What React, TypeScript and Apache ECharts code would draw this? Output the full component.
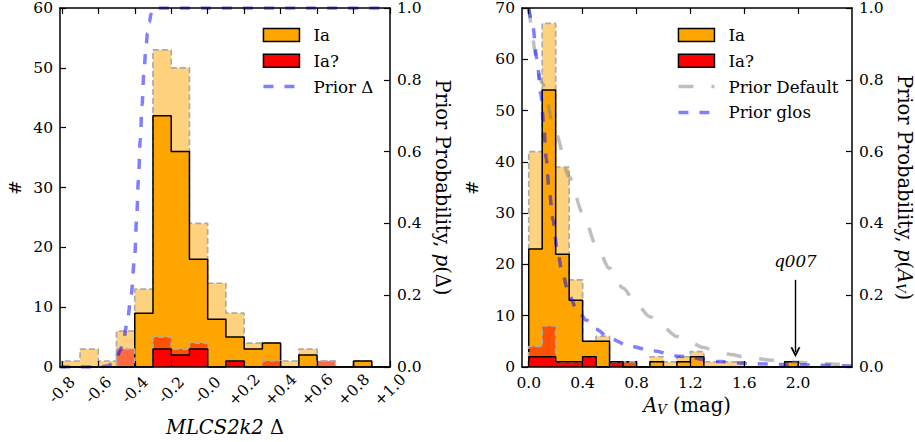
import React, { useEffect, useRef } from "react";
import * as echarts from "echarts";

const FONT = "'DejaVu Serif', serif";

// ---- MLCS2k2 Δ distribution (bins of 0.1) ----
const deltaEdges = [-0.8, -0.7, -0.6, -0.5, -0.4, -0.3, -0.2, -0.1, 0.0, 0.1, 0.2, 0.3, 0.4, 0.5, 0.6, 0.7, 0.8, 0.9, 1.0];
const deltaIaAll = [1, 3, 1, 6, 13, 53, 50, 24, 14, 9, 4, 4, 1, 3, 1, 0, 1, 0];
const deltaIa = [0, 0, 0, 0, 9, 42, 36, 18, 8, 5, 3, 4, 0, 2, 0, 0, 1, 0];
const deltaIaqAll = [0, 0, 0, 3, 0, 5, 3, 4, 0, 1, 0, 1, 0, 0, 1, 0, 0, 0];
const deltaIaq = [0, 0, 0, 0, 0, 3, 2, 3, 0, 1, 0, 0, 0, 0, 0, 0, 0, 0];
const deltaPrior = [
  [-0.81, 0], [-0.6, 0], [-0.55, 0.003], [-0.52, 0.01], [-0.5, 0.025], [-0.48, 0.046],
  [-0.46, 0.08], [-0.44, 0.13], [-0.42, 0.2], [-0.4, 0.31], [-0.39, 0.41], [-0.38, 0.52],
  [-0.37, 0.63], [-0.36, 0.73], [-0.35, 0.82], [-0.34, 0.88], [-0.33, 0.93], [-0.32, 0.96],
  [-0.31, 0.985], [-0.3, 1.0], [1.0, 1.0],
];
const deltaTicks = [-0.8, -0.6, -0.4, -0.2, 0.0, 0.2, 0.4, 0.6, 0.8, 1.0];

// ---- A_V distribution (bins of 0.1) ----
const avEdges = [0.0, 0.1, 0.2, 0.3, 0.4, 0.5, 0.6, 0.7, 0.8, 0.9, 1.0, 1.1, 1.2, 1.3, 1.4, 1.5, 1.6, 1.7, 1.8, 1.9, 2.0, 2.1, 2.2, 2.3, 2.4];
const avIaAll = [42, 67, 39, 17, 5, 6, 1, 1, 0, 2, 1, 2, 3, 1, 1, 1, 0, 0, 0, 1, 0, 0, 0, 0];
const avIa = [23, 54, 22, 13, 5, 5, 1, 1, 0, 1, 0, 1, 2, 0, 0, 0, 0, 0, 0, 1, 0, 0, 0, 0];
const avIaqAll = [4, 8, 1, 1, 2, 0, 1, 1, 0, 0, 0, 0, 0, 0, 0, 0, 0, 0, 0, 0, 0, 0, 0, 0];
const avIaq = [2, 2, 1, 1, 2, 0, 1, 0, 0, 0, 0, 0, 0, 0, 0, 0, 0, 0, 0, 0, 0, 0, 0, 0];
const avPriorDefault = [
  [0.0, 1.0], [0.1, 0.79], [0.2, 0.65], [0.3, 0.53], [0.4, 0.43], [0.5, 0.34], [0.6, 0.275],
  [0.7, 0.22], [0.8, 0.175], [0.9, 0.14], [1.0, 0.11], [1.1, 0.085], [1.2, 0.068], [1.3, 0.054],
  [1.4, 0.043], [1.5, 0.035], [1.6, 0.028], [1.7, 0.023], [1.8, 0.019], [1.9, 0.016], [2.0, 0.013],
  [2.1, 0.011], [2.2, 0.009], [2.3, 0.0075], [2.4, 0.006],
];
const avPriorGlos = [
  [0.0, 1.0], [0.03, 0.95], [0.06, 0.86], [0.09, 0.76], [0.11, 0.68], [0.13, 0.58], [0.15, 0.5],
  [0.18, 0.41], [0.21, 0.33], [0.25, 0.26], [0.3, 0.2], [0.35, 0.165], [0.43, 0.13], [0.5, 0.105],
  [0.6, 0.08], [0.75, 0.058], [0.92, 0.045], [1.12, 0.03], [1.42, 0.015], [1.62, 0.01], [1.9, 0.007],
  [2.16, 0.005], [2.4, 0.003],
];
const avTicks = [0.0, 0.4, 0.8, 1.2, 1.6, 2.0];
const q007Av = 1.98;
const q007ArrowFrom = 17;
const q007ArrowTo = 2.9;

const ORANGE = "#FFA500";
const RED = "#FF0000";

// closed step outline of a histogram: up the first edge, across each bin, down the last edge
function stepOutline(edges: number[], counts: number[]) {
  const pts: number[][] = [[edges[0], 0]];
  counts.forEach((c, i) => pts.push([edges[i], c]));
  pts.push([edges[edges.length - 1], counts[counts.length - 1]]);
  pts.push([edges[edges.length - 1], 0]);
  return pts;
}

function histSeries(name: string, xi: number, yi: number, edges: number[], counts: number[], color: string, light: boolean, extra: any = {}) {
  return {
    name,
    type: "line",
    xAxisIndex: xi,
    yAxisIndex: yi,
    step: "end",
    symbol: "none",
    silent: true,
    data: stepOutline(edges, counts),
    itemStyle: { color },
    lineStyle: light
      ? { color: "#ababab", width: 1.7, type: [6, 3] }
      : { color: "#000", width: 1.5, type: "solid" },
    areaStyle: { color, opacity: light ? 0.5 : 1 },
    ...extra,
  };
}

function priorSeries(name: string, xi: number, yi: number, pts: number[][], color: string, dash: number[]) {
  return {
    name,
    type: "line",
    xAxisIndex: xi,
    yAxisIndex: yi,
    symbol: "none",
    silent: true,
    smooth: 0.3,
    smoothMonotone: "x",
    data: pts,
    itemStyle: { color },
    lineStyle: { color, width: 3.5, type: dash, cap: "butt" },
    z: 5,
  };
}

const axisLine = { show: true, onZero: false, lineStyle: { color: "#000", width: 1.5 } };
const tickStyle = { show: true, inside: true, length: 6, lineStyle: { color: "#000", width: 1.2 } };
const labelBase = { color: "#000", fontFamily: FONT, fontSize: 15.5 };
const nameBase = { color: "#000", fontFamily: FONT, fontSize: 19.5 };
const richName = {
  i: { fontStyle: "italic", fontFamily: FONT, fontSize: 19.5, color: "#000" },
  s: { fontStyle: "italic", fontFamily: FONT, fontSize: 13, color: "#000", verticalAlign: "bottom" },
  n: { fontFamily: FONT, fontSize: 19.5, color: "#000" },
};

function xAxes(grid: number, min: number, max: number, ticks: number[], label: any, name: any) {
  return [
    {
      type: "value", gridIndex: grid, position: "bottom", min, max, z: 10,
      axisLine, splitLine: { show: false },
      axisTick: { ...tickStyle, customValues: ticks },
      axisLabel: { ...labelBase, customValues: ticks, ...label },
      ...name,
    },
    {
      type: "value", gridIndex: grid, position: "top", min, max, z: 10,
      axisLine, splitLine: { show: false },
      axisTick: { ...tickStyle, customValues: ticks },
      axisLabel: { show: false },
    },
  ];
}

function yAxes(grid: number, countMax: number, leftGap: number, probName: string) {
  return [
    {
      type: "value", gridIndex: grid, position: "left", min: 0, max: countMax, interval: 10, z: 10,
      axisLine, splitLine: { show: false }, axisTick: tickStyle,
      axisLabel: { ...labelBase, margin: 7 },
      name: "#", nameLocation: "middle", nameGap: leftGap, nameRotate: 90,
      nameTextStyle: { ...nameBase, fontSize: 17 },
    },
    {
      type: "value", gridIndex: grid, position: "right", min: 0, max: 1, interval: 0.2, z: 10,
      axisLine, splitLine: { show: false }, axisTick: tickStyle,
      axisLabel: { ...labelBase, margin: 7, formatter: (v: number) => v.toFixed(1) },
      name: probName, nameLocation: "middle", nameGap: 42, nameRotate: -90,
      nameTextStyle: { ...nameBase, rich: richName },
    },
  ];
}

const legendBase = {
  orient: "vertical",
  top: 25,
  padding: 0,
  itemWidth: 36,
  itemHeight: 13,
  itemGap: 5.8,
  selectedMode: false,
  textStyle: { color: "#000", fontFamily: FONT, fontSize: 16.7, lineHeight: 20, padding: [0, 0, 0, 9] },
};
const boxItem = (name: string, color: string) => ({
  name, icon: "rect", itemStyle: { color, borderColor: "#000", borderWidth: 1.5 },
});
// line-only key: the marker dot a line series adds to its key is made invisible
const lineItem = (name: string) => ({
  name,
  lineStyle: { width: 3.5 },
  itemStyle: { color: "rgba(0,0,0,0)", borderColor: "rgba(0,0,0,0)", borderWidth: 0, opacity: 0 },
});

const arrowHead = "path://M5,0 L10,10 L8,10 L5,4 L2,10 L0,10 Z";

function buildOption() {
  return {
    animation: false,
    backgroundColor: "#fff",
    textStyle: { fontFamily: FONT },
    grid: [
      { left: 60, top: 8, width: 330, height: 359 },
      { left: 522, top: 8, width: 330, height: 359 },
    ],
    legend: [
      { ...legendBase, left: 261.7, data: [boxItem("Ia", ORANGE), boxItem("Ia?", RED), lineItem("Prior Δ")] },
      { ...legendBase, left: 676.7, data: [boxItem("Ia", ORANGE), boxItem("Ia?", RED), lineItem("Prior Default"), lineItem("Prior glos")] },
    ],
    xAxis: [
      ...xAxes(0, -0.81, 1.0, deltaTicks, {
        rotate: 45, align: "center", verticalAlign: "middle", margin: 23,
        formatter: (v: number) => (v > 0 ? "+" : "-") + Math.abs(v).toFixed(1),
      }, {
        name: "{i|MLCS2k2} {n|Δ}", nameLocation: "middle", nameGap: 50,
        nameTextStyle: { ...nameBase, rich: richName },
      }),
      ...xAxes(1, -0.05, 2.4, avTicks, {
        margin: 8, formatter: (v: number) => v.toFixed(1),
      }, {
        name: "{i|A}{s|V}{n| (mag)}", nameLocation: "middle", nameGap: 27,
        nameTextStyle: { ...nameBase, rich: richName },
      }),
    ],
    yAxis: [
      ...yAxes(0, 60, 37, "Prior Probability, {i|p}(Δ)"),
      ...yAxes(1, 70, 42, "Prior Probability, {i|p}({i|A}{s|V})"),
    ],
    series: [
      histSeries("Ia (all)", 0, 0, deltaEdges, deltaIaAll, ORANGE, true),
      histSeries("Ia", 0, 0, deltaEdges, deltaIa, ORANGE, false),
      histSeries("Ia? (all)", 0, 0, deltaEdges, deltaIaqAll, RED, true),
      histSeries("Ia?", 0, 0, deltaEdges, deltaIaq, RED, false),
      priorSeries("Prior Δ", 0, 1, deltaPrior, "rgba(0,0,255,0.5)", [10, 11]),

      histSeries("Ia (all)", 2, 2, avEdges, avIaAll, ORANGE, true),
      histSeries("Ia", 2, 2, avEdges, avIa, ORANGE, false, {
        markLine: {
          silent: true,
          symbol: ["none", arrowHead],
          symbolSize: [10, 10],
          lineStyle: { color: "#000", width: 1.4, type: "solid" },
          label: {
            show: true, position: "start", formatter: "q007", distance: 10,
            fontStyle: "italic", fontFamily: FONT, fontSize: 16.7, color: "#000",
          },
          data: [[{ coord: [q007Av, q007ArrowFrom] }, { coord: [q007Av, q007ArrowTo] }]],
        },
      }),
      histSeries("Ia? (all)", 2, 2, avEdges, avIaqAll, RED, true),
      histSeries("Ia?", 2, 2, avEdges, avIaq, RED, false),
      priorSeries("Prior Default", 2, 3, avPriorDefault, "rgba(128,128,128,0.5)", [15, 18]),
      priorSeries("Prior glos", 2, 3, avPriorGlos, "rgba(0,0,255,0.5)", [10, 11]),
    ],
  };
}

export default function App() {
  const ref = useRef<HTMLDivElement>(null);
  useEffect(() => {
    if (!ref.current) return;
    const chart = echarts.init(ref.current, undefined, { renderer: "svg" });
    chart.setOption(buildOption() as any);
    return () => chart.dispose();
  }, []);
  return (
    <div
      ref={ref}
      style={{ position: "fixed", left: 0, top: 0, width: 915, height: 442, background: "#fff" }}
    />
  );
}
